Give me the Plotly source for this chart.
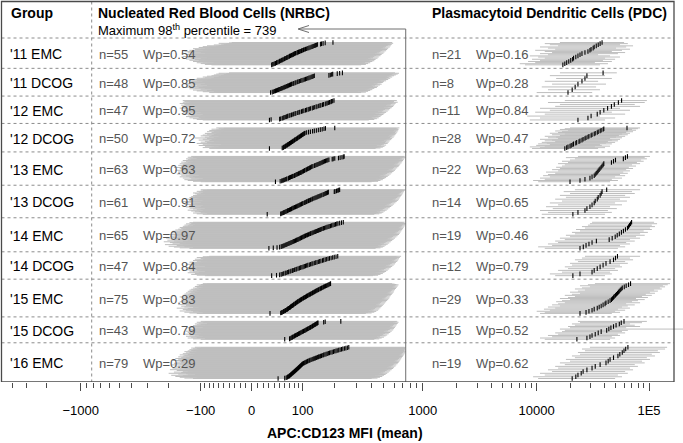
import numpy as np
import plotly.graph_objects as go

# ------------------------------------------------------------------ data
GROUPS = ["'11 EMC", "'11 DCOG", "'12 EMC", "'12 DCOG", "'13 EMC", "'13 DCOG",
          "'14 EMC", "'14 DCOG", "'15 EMC", "'15 DCOG", "'16 EMC"]
WP_NRBC = [0.54, 0.85, 0.95, 0.72, 0.63, 0.91, 0.97, 0.84, 0.83, 0.79, 0.29]
WP_PDC = [0.16, 0.28, 0.84, 0.47, 0.63, 0.65, 0.46, 0.79, 0.33, 0.52, 0.62]

# per sample: mean MFI, 2nd and 98th percentile, sorted by mean (bottom -> top)
NRBC_MEAN = [
    [35,37,39,41,42, 44,45,47,49,50, 52,54,55,57,59, 60,62,64,65,67, 69,70,72,74,76, 78,79,81,83,86, 88,90,92,95,97, 99,102,104,107,110, 113,116,119,122,125, 128,131,134,137,140, 150,153,158,165,193],
    [33,36,38,40,42, 44,46,48,50,52, 54,56,58,60,62, 64,66,68,70,72, 74,77,79,82,84, 87,89,92,95,98, 101,104,107,110,113, 116,119,122,125,128, 131,178,183,188,192, 210,220,232],
    [31,34,50,52,55, 57,59,62,64,66, 69,71,74,77,79, 82,84,88,91,93, 97,100,103,107,110, 114,117,120,125,128, 131,136,139,144,148, 151,156,159,165,168, 172,177,180,185,188, 192,197],
    [31,55,57,58,60, 61,62,64,65,66, 68,69,70,72,73, 74,76,77,78,80, 81,82,84,85,87, 88,89,91,92,94, 95,97,98,100,101, 103,104,106,110,115, 120,126,131,137,143, 149,155,161,166,200],
    [42,51,54,56,58, 60,62,64,67,68, 70,72,74,76,78, 81,82,84,86,88, 90,92,95,96,98, 100,102,104,105,108, 110,112,114,116,118, 120,122,124,127,131, 133,136,139,142,145, 148,151,154,157,160, 163,166,170,174,178, 190,194,200,215,222, 230,236,240],
    [27,52,54,56,58, 59,61,63,65,66, 68,70,72,74,75, 77,79,81,83,85, 87,89,91,93,95, 97,99,101,104,106, 108,110,113,115,117, 120,122,125,127,130, 133,136,139,142,145, 148,151,154,158,161, 164,167,170,173,176, 198,201,207,212,216, 220],
    [30,38,45,50,53, 55,57,59,61,63, 65,67,69,71,73, 75,77,79,81,83, 85,87,89,91,93, 95,97,99,101,103, 105,107,110,112,115, 117,120,122,125,128, 131,134,137,140,143, 146,149,152,155,159, 163,167,171,175,179, 184,188,193,198,203, 208,213,220,228,236],
    [35,44,50,53,56, 58,61,63,66,68, 71,73,76,78,81, 84,86,89,92,95, 98,101,104,107,110, 113,117,120,124,127, 131,135,139,143,147, 151,156,160,165,170, 175,180,186,192,198, 205,212],
    [32,52,54,55,57, 58,60,61,62,64, 65,66,67,68,70, 71,72,73,74,76, 77,78,79,80,82, 83,84,85,87,88, 89,91,92,94,95, 97,98,100,102,103, 105,107,109,110,112, 114,116,118,120,122, 124,126,128,130,132, 134,136,138,141,143, 145,148,150,153,155, 158,160,163,166,169, 172,175,178,181,184],
    [60,70,71,73,75, 76,78,80,81,83, 85,87,88,90,92, 94,96,98,100,102, 104,106,108,110,112, 114,116,118,120,122, 124,126,128,130,132, 134,136,138,140,142, 160,165,225],
    [47,60,63,65,66, 68,69,70,71,72, 73,74,75,76,77, 78,79,80,81,82, 83,84,85,86,87, 88,89,90,91,92, 93,94,95,96,97, 98,99,100,102,104, 106,108,110,112,114, 117,119,122,125,128, 131,134,137,140,143, 146,150,153,157,160, 164,168,172,176,180, 185,190,195,200,205, 210,216,222,228,234, 241,248,255,262],
]
NRBC_P2 = [
    [-75,-90,-60,-100,-85, -110,-70,-95,-120,-80, -105,-130,-90,-115,-140, -100,-125,-85,-135,-110, -150,-95,-120,-130,-105, -140,-115,-90,-125,-135, -100,-120,-145,-110,-95, -130,-85,-115,-100,-120, -90,-75,-105,-80,-95, -65,-85,-60,-70,-50, -55,-45,-60,-40,-35],
    [-80,-65,-95,-70,-110, -85,-120,-75,-100,-130, -90,-115,-105,-140,-95, -125,-110,-85,-135,-100, -120,-145,-90,-115,-130, -105,-125,-95,-140,-110, -85,-120,-100,-75,-110, -90,-70,-95,-60,-85, -75,-55,-70,-50,-65, -45,-60,-40],
    [-95,-110,-85,-120,-100, -130,-105,-90,-140,-115, -100,-125,-135,-95,-145, -110,-120,-150,-100,-130, -140,-115,-155,-125,-105, -135,-145,-120,-160,-110, -130,-150,-125,-140,-115, -155,-135,-145,-120,-160, -140,-130,-150,-125,-145, -135,-150],
    [-80,-65,-95,-75,-60, -90,-70,-105,-85,-55, -95,-75,-110,-65,-85, -100,-70,-90,-60,-80, -105,-75,-95,-65,-85, -115,-70,-90,-80,-60, -100,-75,-95,-70,-85, -65,-90,-55,-75,-60, -85,-70,-50,-80,-65, -55,-75,-60,-50,-65],
    [-100,-120,-90,-135,-110, -145,-105,-125,-95,-150, -115,-130,-160,-120,-140, -105,-155,-130,-115,-170, -140,-125,-150,-110,-165, -135,-145,-120,-175,-130, -150,-115,-160,-140,-125, -180,-135,-155,-145,-120, -165,-130,-150,-140,-160, -125,-145,-135,-155,-120, -140,-130,-150,-115,-135, -125,-140,-110,-130,-120, -135,-115,-125],
    [-95,-110,-85,-120,-100, -90,-115,-105,-125,-95, -135,-110,-100,-120,-90, -130,-105,-115,-140,-100, -120,-95,-130,-110,-145, -105,-125,-115,-135,-100, -120,-150,-110,-130,-95, -125,-115,-140,-105,-120, -110,-130,-100,-125,-115, -95,-120,-105,-110,-90, -115,-100,-120,-95,-105, -90,-110,-100,-95,-85, -100],
    [-130,-160,-120,-180,-145, -200,-135,-170,-150,-215, -125,-185,-160,-140,-195, -170,-220,-150,-180,-135, -205,-160,-190,-145,-175, -210,-155,-185,-165,-140, -195,-170,-150,-180,-200, -160,-140,-175,-190,-155, -170,-145,-185,-160,-135, -175,-150,-165,-140,-155, -130,-160,-145,-125,-150, -135,-120,-145,-130,-115, -140,-125,-110,-130,-120],
    [-90,-110,-85,-125,-100, -115,-95,-135,-105,-120, -90,-130,-110,-100,-140, -115,-95,-125,-105,-135, -110,-120,-90,-130,-115, -100,-125,-140,-105,-120, -95,-115,-130,-100,-110, -85,-120,-105,-95,-115, -80,-100,-90,-110,-85, -95,-80],
    [-110,-130,-95,-145,-120, -105,-160,-125,-140,-100, -150,-115,-135,-170,-120, -105,-145,-130,-155,-110, -140,-125,-165,-115,-135, -150,-120,-145,-105,-160, -130,-140,-115,-155,-125, -145,-110,-135,-150,-120, -140,-160,-125,-130,-115, -150,-135,-120,-145,-110, -130,-140,-115,-125,-105, -135,-120,-110,-130,-100, -125,-115,-105,-120,-95, -110,-100,-115,-90,-105, -95,-110,-100,-85,-95],
    [-100,-120,-90,-135,-110, -125,-95,-140,-115,-105, -130,-120,-145,-100,-125, -110,-135,-95,-120,-140, -105,-125,-115,-130,-100, -120,-110,-135,-95,-115, -125,-105,-120,-90,-110, -100,-115,-85,-105,-95, -110,-90,-100],
    [-120,-145,-110,-160,-130, -175,-125,-150,-190,-135, -115,-165,-140,-200,-125, -155,-180,-135,-150,-120, -170,-140,-195,-130,-160, -145,-185,-125,-155,-175, -140,-165,-120,-150,-190, -135,-160,-145,-180,-125, -155,-170,-140,-160,-130, -185,-150,-165,-135,-145, -175,-125,-155,-140,-165, -130,-150,-120,-145,-160, -135,-125,-150,-115,-140, -130,-120,-145,-110,-135, -125,-115,-130,-105,-120, -110,-125,-100,-115],
]
NRBC_P98 = [
    [330,360,320,375,345, 390,355,335,405,370, 420,385,360,430,395, 375,445,410,390,455, 420,400,470,435,410, 480,445,425,495,460, 440,505,470,450,520, 485,465,530,495,475, 540,510,490,555,520, 500,565,535,515,575, 545,525,590,560,580],
    [330,360,310,375,345, 390,355,405,370,385, 420,380,440,395,410, 450,425,400,465,435, 480,445,415,470,490, 455,500,475,520,460, 505,540,485,525,560, 510,545,580,530,565, 600,550,620,575,640, 590,655,610],
    [380,420,395,440,410, 455,400,430,470,445, 415,480,450,495,460, 430,505,470,520,485, 450,535,495,470,550, 510,485,560,525,575, 500,540,590,555,520, 600,565,530,610,575, 620,590,640,560,600, 580,630],
    [430,470,445,490,460, 505,475,440,520,485, 500,465,535,490,510, 545,480,520,555,500, 530,570,515,545,580, 525,560,595,540,575, 605,550,585,615,565, 595,625,580,610,635, 590,620,645,600,630, 650,615,640,625,660],
    [400,450,420,470,440, 490,455,430,505,470, 520,480,455,535,500, 470,550,515,490,565, 530,500,580,545,515, 595,560,530,610,575, 545,620,590,560,635, 600,575,650,615,585, 660,625,600,670,640, 610,685,650,625,695, 660,640,705,675,650, 715,690,670,725,700, 739,710,725],
    [420,460,435,480,450, 495,465,440,510,475, 525,490,460,540,505, 480,555,520,495,570, 535,510,585,550,525, 600,565,540,615,580, 555,630,595,570,645, 610,585,655,620,600, 665,635,610,675,645, 625,685,655,640,695, 665,650,705,680,660, 715,690,675,725,700, 739],
    [430,470,445,490,460, 505,475,450,520,485, 535,500,470,550,515, 490,565,530,505,580, 545,520,595,560,535, 610,575,550,625,590, 565,640,605,580,655, 620,595,665,630,610, 675,645,620,685,655, 635,695,665,645,705, 675,655,715,685,665, 725,695,680,735,705, 690,739,715,700,725],
    [410,450,425,470,440, 490,455,430,505,470, 520,485,460,535,500, 475,550,515,490,565, 530,505,580,545,520, 595,560,535,610,575, 550,620,590,565,635, 600,580,645,615,595, 655,630,610,665,640, 625,680],
    [360,400,375,420,390, 435,405,380,450,415, 395,460,425,405,470, 435,415,480,445,425, 490,455,435,500,465, 445,510,475,455,520, 485,465,530,495,475, 540,505,485,550,515, 495,555,525,505,565, 535,515,575,545,525, 585,555,535,595,565, 545,600,575,555,610, 585,565,620,595,575, 630,605,585,640,615, 595,650,625,605,580],
    [420,460,435,480,450, 500,465,440,515,480, 530,495,465,545,510, 485,560,525,500,575, 540,515,590,555,530, 600,570,545,610,580, 560,620,590,570,630, 600,580,640,610,590, 650,620,635],
    [400,445,420,465,435, 485,450,425,500,465, 515,480,455,530,495, 470,545,510,485,560, 525,500,575,540,515, 590,555,530,600,570, 545,615,585,560,625, 595,575,640,605,585, 650,620,600,660,630, 610,670,645,625,680, 655,635,690,665,645, 700,675,655,710,685, 665,720,695,675,730, 705,690,739,715,700, 725,710,735,720,700, 730,715,739,725],
]
PDC_MEAN = [
    [17100,17800,18500,19300,20100, 20900,21300,22300,23300,24300, 25300,26900,28600,29800,30500, 31800,32500,33900,35300,36700, 38200],
    [19000,20700,22000,23300,25300,26900,28000,39000],
    [23300,28600,30500,34600,36700,39600,42800,46300,49100,53400,57000],
    [17800,18500,19000,19800,20300, 21000,21300,22300,22700,23800, 24300,25300,25900,26900,27500, 28600,29200,30500,31100,32500, 33200,34600,35300,36700,37500, 39000,39600,63700],
    [19800,24300,26900,29800,31100, 32500,33200,33900,34600,35300, 36000,36700,37500,38200,39000, 39600,46300,48300,50300,59100, 61700,64300],
    [21000,23300,26900,28000,29800, 31100,32500,33200,34600,35300, 36700,37500,38200,42000],
    [24300,26000,27500,29200,31100, 34000,44200,47000,50000,52100, 54400,56800,59200,61700,64300, 65700,67100,68500,70000],
    [21000,24300,31100,32500,34600, 36700,39000,41400,45000,48300, 50300,52400],
    [24300,27500,29200,31100,32500, 34600,36000,37500,39000,40600, 41400,43300,45000,46300,47300, 48300,49100,50300,51300,52400, 53400,54400,55500,56600,57800, 60200,62600,65700,68500],
    [22800,28000,29800,31100,33200, 35300,37500,42000,43900,45800, 48300,50900,54400,56600,59900],
    [20700,22300,23300,24900,25900, 28000,31100,33200,36700,41400, 43300,45000,48300,52900,55000, 57800,59900,62000,64900],
]
PDC_P2 = [
    [7900,7100,9700,8400,10700, 9100,11800,10300,8700,12600, 10700,13700,11800,9700,14600, 12600,10700,15500,13100,11800, 16100],
    [10000,12600,11100,13700,11800,14900,13100,16100],
    [8700,10700,8250,11800,9700,13100,10700,14600,16100,12600,17800],
    [9100,10700,8700,11800,9900, 13100,10300,12300,11100,14600, 11800,13700,10700,15500,12600, 14900,11800,16100,13700,17800, 13100,15500,16800,14600,19000, 16100,17800,19800],
    [10300,9300,11800,10700,13100, 11400,12600,14600,12100,15500, 13700,16100,14900,16800,17800, 15500,19000,16800,19800,21900, 18200,23300],
    [11100,12600,10700,13900,12100, 15500,13100,16800,14600,18200, 16100,19800,17400,21900],
    [11800,10300,13700,12600,15500, 14600,17800,16100,19800,18200, 21900,20600,24300,22400,26900, 25300,28600,29800,31100],
    [14600,13100,16800,15500,19000, 17800,20600,19800,23300,21900, 25300,26900],
    [10700,11800,10000,13100,11600, 14600,12600,16100,13700,15500, 17800,14900,16800,19800,16100, 19000,21900,17800,20600,24300, 19800,23300,26900,21900,25300, 29800,24300,28600,33000],
    [11800,10700,13700,12600,15500, 14600,16800,17800,16100,19800, 19000,21900,20600,24300,23300],
    [10300,9300,11800,10700,13700, 12600,15500,14600,17800,16100, 19800,18200,21900,20600,24300, 23300,26900,25300,29800],
]
PDC_P98 = [
    [36600,43100,33000,46700,38900, 49900,40600,55200,45000,35200, 52900,61300,46700,57500,67700, 50800,62600,72100,55200,64800, 60000],
    [31200,36600,33800,41400,35200,46700,40600,51700],
    [40600,49900,36600,61300,46700,67700,55200,83300,74700,91600,95700],
    [35200,40600,33000,45000,38000, 36600,46700,41400,49900,43100, 52900,46700,55200,45000,57500, 50800,61300,54000,64800,57500, 67700,62600,72100,64800,76600, 70600,79700,83300],
    [45000,52900,46700,57500,49900, 61300,55200,64800,59000,67700, 62600,72100,66200,76600,70600, 83300,78100,89700,85000,95700, 91600,102000],
    [40600,46700,43100,51700,45000, 57500,49900,63600,55200,67700, 61300,74700,70600,83300],
    [52900,61300,55200,67700,62600, 74700,67700,83300,76600,91600, 83300,97800,89700,106000,102000, 113000,106000,118000,111000],
    [40600,46700,45000,52900,49900, 57500,55200,64800,61300,72100, 67700,83300],
    [46700,55200,49900,61300,52900, 67700,57500,64800,74700,62600, 83300,70600,79700,91600,76600, 97800,86700,106000,93700,113000, 102000,120000,111000,130000,125000, 139000,133000,147000,154000],
    [45000,49900,46700,55200,52900, 61300,57500,64800,250000,62600, 83300,74700,67700,86700,95700],
    [49900,57500,52900,64800,61300, 72100,67700,79700,74700,91600, 86700,102000,95700,113000,106000, 125000,120000,139000,145000],
]

TICK_VALUES = [-1000, -100, 0, 100, 1000, 10000, 100000]
TICK_TEXT = ["\u22121000", "\u2212100", "0", "100", "1000", "10000", "1E5"]

# ------------------------------------------------------------------ scale
W, H = 683, 443
ZERO_PX = 251.7          # pixel column of value 0
PLOT_BOTTOM = 382
ROW_TOP = 38
ROW_PAD_UNITS = 27
SCALE_C = 97.0
ANCHOR_V = np.array([0, 100, 1000, 1e4, 1e5, 1e6])
ANCHOR_P = np.array([0, 51, 171, 285, 397.3, 509.6])
ANCHOR_G = np.arcsinh(ANCHOR_V / SCALE_C)


def tx(v):
    """biexponential-like display transform (axis units = pixels)"""
    v = np.asarray(v, dtype=float)
    return np.sign(v) * np.interp(np.arcsinh(np.abs(v) / SCALE_C), ANCHOR_G, ANCHOR_P)


def col(p):
    return p - ZERO_PX


def paper_y(p):
    return (PLOT_BOTTOM - p) / PLOT_BOTTOM


FONT = "Liberation Sans, Arial, Helvetica, sans-serif"
GREY = "#bebebe"

for a, b, c in zip(NRBC_MEAN, NRBC_P2, NRBC_P98):
    assert len(a) == len(b) == len(c), (len(a), len(b), len(c))
for a, b, c in zip(PDC_MEAN, PDC_P2, PDC_P98):
    assert len(a) == len(b) == len(c), (len(a), len(b), len(c))

n_nrbc = [len(m) for m in NRBC_MEAN]
n_pdc = [len(m) for m in PDC_MEAN]
units = np.array([max(a, b) + ROW_PAD_UNITS for a, b in zip(n_nrbc, n_pdc)], float)
bounds = ROW_TOP + (PLOT_BOTTOM - ROW_TOP) * np.concatenate([[0], np.cumsum(units)]) / units.sum()

fig = go.Figure()


def add_panel(means, lo, hi, top, bot):
    n = len(means)
    y0, y1 = bot - 3.5, top + 4.5
    ys = [y0 - k * (y0 - y1) / max(n - 1, 1) for k in range(n)]
    gx, gy, bx, by = [], [], [], []
    for m, l, h, y in zip(means, lo, hi, ys):
        gx += [float(tx(l)), float(tx(h)), None]
        gy += [y, y, None]
        bx += [float(tx(m)), float(tx(m)), None]
        by += [y + 2.3, y - 2.3, None]
    fig.add_trace(go.Scatter(x=gx, y=gy, mode="lines", line=dict(color=GREY, width=1),
                             hoverinfo="skip", showlegend=False))
    return bx, by


black = []
for i in range(len(GROUPS)):
    top, bot = bounds[i], bounds[i + 1]
    black.append(add_panel(NRBC_MEAN[i], NRBC_P2[i], NRBC_P98[i], top, bot))
    black.append(add_panel(PDC_MEAN[i], PDC_P2[i], PDC_P98[i], top, bot))
for bx, by in black:
    fig.add_trace(go.Scatter(x=bx, y=by, mode="lines", line=dict(color="black", width=1.1),
                             hoverinfo="skip", showlegend=False))

MAX98 = max(max(h) for h in NRBC_P98)

shapes = []
# row separators
for b in bounds[:-1]:
    shapes.append(dict(type="line", x0=col(1.5), x1=col(674), y0=b, y1=b,
                       line=dict(color="#8c8c8c", width=1, dash="dot")))
shapes.append(dict(type="line", x0=col(91.7), x1=col(91.7), y0=1.5, y1=PLOT_BOTTOM,
                   line=dict(color="#8c8c8c", width=1, dash="dot")))
# max 98th percentile marker
xm = float(tx(MAX98))
shapes.append(dict(type="line", x0=xm, x1=xm, y0=29, y1=PLOT_BOTTOM, line=dict(color="#6e6e6e", width=1)))
shapes.append(dict(type="line", x0=col(299), x1=xm, y0=29, y1=29, line=dict(color="#6e6e6e", width=1)))
shapes.append(dict(type="line", x0=col(298), x1=col(309), y0=29, y1=25.5, line=dict(color="#6e6e6e", width=1)))
shapes.append(dict(type="line", x0=col(298), x1=col(309), y0=29, y1=32.5, line=dict(color="#6e6e6e", width=1)))
# frame
shapes.append(dict(type="rect", x0=col(1.5), x1=col(674), y0=1.5, y1=PLOT_BOTTOM,
                   line=dict(color="#4a4a4a", width=1.3)))

ann = []


def text(x, y, s, size=13, color="black", anchor="left"):
    ann.append(dict(x=col(x), y=y, xref="x", yref="y", text=s, showarrow=False,
                    xanchor=anchor, yanchor="middle", font=dict(family=FONT, size=size, color=color)))


text(9, 13, "<b>Group</b>", 14)
text(96, 12.5, "<b>Nucleated Red Blood Cells (NRBC)</b>", 14)
text(96, 30, "Maximum 98<sup>th</sup> percentile = %d" % MAX98, 13)
text(430, 13, "<b>Plasmacytoid Dendritic Cells (PDC)</b>", 14)
for i, g in enumerate(GROUPS):
    yc = (bounds[i] + bounds[i + 1]) / 2 + 1
    text(8, yc, g, 14)
    text(97, yc, "n=%d" % n_nrbc[i], 13, "#555555")
    text(141, yc, "Wp=%.2f" % WP_NRBC[i], 13, "#555555")
    text(430, yc, "n=%d" % n_pdc[i], 13, "#555555")
    text(474, yc, "Wp=%.2f" % WP_PDC[i], 13, "#555555")
ann.append(dict(x=345 / W, y=paper_y(433), xref="paper", yref="paper", yanchor="middle", xanchor="center",
                text="<b>APC:CD123 MFI (mean)</b>", showarrow=False,
                font=dict(family=FONT, size=14, color="black")))

minor_vals = ([-4000, -3000, -2000] + list(range(-900, -100, 100)) + list(range(-90, 0, 10))
              + list(range(10, 100, 10)) + list(range(200, 1000, 100))
              + list(range(2000, 10000, 1000)) + list(range(20000, 100000, 10000)))

fig.update_layout(
    width=W, height=H,
    margin=dict(l=0, r=0, t=0, b=H - PLOT_BOTTOM, pad=0, autoexpand=False),
    paper_bgcolor="white", plot_bgcolor="white",
    hovermode=False, showlegend=False,
    shapes=shapes, annotations=ann,
    xaxis=dict(range=[col(0), col(W)], showgrid=False, zeroline=False, showline=False,
               automargin=False,
               tickmode="array", tickvals=[float(tx(v)) for v in TICK_VALUES], ticktext=TICK_TEXT,
               ticks="outside", ticklen=8, tickwidth=1, tickcolor="#4a4a4a",
               tickfont=dict(family=FONT, size=13, color="black"), ticklabelstandoff=8,
               minor=dict(tickmode="array", tickvals=[float(tx(v)) for v in minor_vals],
                          ticks="outside", ticklen=5, tickwidth=1, tickcolor="#4a4a4a", showgrid=False),
               fixedrange=True),
    yaxis=dict(range=[PLOT_BOTTOM, 0], visible=False, fixedrange=True, automargin=False),
)

fig.write_html("out.html", config={"displayModeBar": False},
               post_script="document.body.style.margin='0';document.body.style.padding='0';")
